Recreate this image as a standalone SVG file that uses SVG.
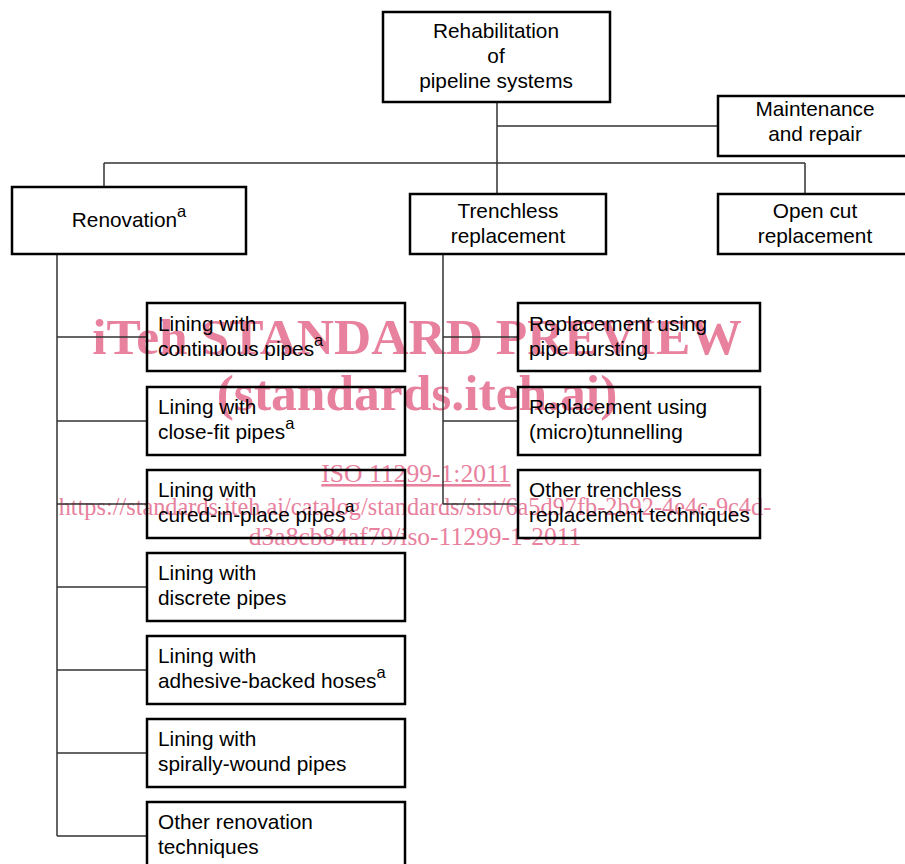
<svg xmlns="http://www.w3.org/2000/svg" width="905" height="864" viewBox="0 0 905 864">
<style>
.box{fill:none;stroke:#000;stroke-width:2.5}
.conn{fill:none;stroke:#333;stroke-width:1.5}
.t{font-family:"Liberation Sans",Arial,sans-serif;font-size:20.8px;fill:#000}
.c{text-anchor:middle}
.sup{font-size:16.5px}
.wm{font-family:"Liberation Serif","Times New Roman",serif;fill:#e8819e}
.wmb{font-weight:bold;font-size:51.5px}
.wms{font-size:25px}
</style>
<rect width="905" height="864" fill="#fff"/>
<g id="watermark">
<text class="wm wmb" x="417" y="354" text-anchor="middle">iTeh STANDARD PREVIEW</text>
<text class="wm wmb" x="417" y="410" text-anchor="middle">(standards.iteh.ai)</text>
<text class="wm" x="416" y="482" text-anchor="middle" text-decoration="underline" font-size="25.6px">ISO 11299-1:2011</text>
<text class="wm" x="415" y="515" text-anchor="middle" font-size="24.3px">https://standards.iteh.ai/catalog/standards/sist/6a5d97fb-2b92-4e4c-9c4d-</text>
<text class="wm" x="415" y="545" text-anchor="middle" font-size="25.5px">d3a8cb84af79/iso-11299-1-2011</text>
</g>
<g id="connectors">
<path class="conn" d="M497 102V194M497 126H718M104 163H805M104 163V187M805 163V193"/>
<path class="conn" d="M57 254V836M57 337H147M57 421H147M57 504H147M57 587H147M57 670H147M57 753H147M57 836H147"/>
<path class="conn" d="M443 254V504M443 337H518M443 421H518M443 504H518"/>
</g>
<g id="root">
<rect class="box" x="383" y="12" width="227" height="90"/>
<text class="t c" x="496" y="38">Rehabilitation</text>
<text class="t c" x="496" y="63">of</text>
<text class="t c" x="496" y="88">pipeline systems</text>
</g>
<g id="maintenance">
<rect class="box" x="718" y="96" width="195" height="60"/>
<text class="t c" x="815" y="116">Maintenance</text>
<text class="t c" x="815" y="141">and repair</text>
</g>
<g id="renovation">
<rect class="box" x="12" y="187" width="234" height="67"/>
<text class="t c" x="129" y="227">Renovation<tspan class="sup" dy="-10">a</tspan></text>
</g>
<g id="trenchless">
<rect class="box" x="410" y="194" width="196" height="60"/>
<text class="t c" x="508" y="218">Trenchless</text>
<text class="t c" x="508" y="243">replacement</text>
</g>
<g id="opencut">
<rect class="box" x="718" y="194" width="195" height="60"/>
<text class="t c" x="815" y="218">Open cut</text>
<text class="t c" x="815" y="243">replacement</text>
</g>
<g id="continuous">
<rect class="box" x="147" y="303" width="258" height="68"/>
<text class="t" x="158" y="331">Lining with</text>
<text class="t" x="158" y="356">continuous pipes<tspan class="sup" dy="-10">a</tspan></text>
</g>
<g id="closefit">
<rect class="box" x="147" y="387" width="258" height="68"/>
<text class="t" x="158" y="414">Lining with</text>
<text class="t" x="158" y="439">close-fit pipes<tspan class="sup" dy="-10">a</tspan></text>
</g>
<g id="cip">
<rect class="box" x="147" y="470" width="258" height="68"/>
<text class="t" x="158" y="497">Lining with</text>
<text class="t" x="158" y="522">cured-in-place pipes<tspan class="sup" dy="-10">a</tspan></text>
</g>
<g id="discrete">
<rect class="box" x="147" y="553" width="258" height="68"/>
<text class="t" x="158" y="580">Lining with</text>
<text class="t" x="158" y="605">discrete pipes</text>
</g>
<g id="hoses">
<rect class="box" x="147" y="636" width="258" height="68"/>
<text class="t" x="158" y="663">Lining with</text>
<text class="t" x="158" y="688">adhesive-backed hoses<tspan class="sup" dy="-10">a</tspan></text>
</g>
<g id="spiral">
<rect class="box" x="147" y="719" width="258" height="68"/>
<text class="t" x="158" y="746">Lining with</text>
<text class="t" x="158" y="771">spirally-wound pipes</text>
</g>
<g id="otherrenov">
<rect class="box" x="147" y="802" width="258" height="68"/>
<text class="t" x="158" y="829">Other renovation</text>
<text class="t" x="158" y="854">techniques</text>
</g>
<g id="bursting">
<rect class="box" x="518" y="303" width="242" height="68"/>
<text class="t" x="529" y="331">Replacement using</text>
<text class="t" x="529" y="356">pipe bursting</text>
</g>
<g id="tunnelling">
<rect class="box" x="518" y="387" width="242" height="68"/>
<text class="t" x="529" y="414">Replacement using</text>
<text class="t" x="529" y="439">(micro)tunnelling</text>
</g>
<g id="othertrench">
<rect class="box" x="518" y="470" width="242" height="68"/>
<text class="t" x="529" y="497">Other trenchless</text>
<text class="t" x="529" y="522">replacement techniques</text>
</g>
</svg>
